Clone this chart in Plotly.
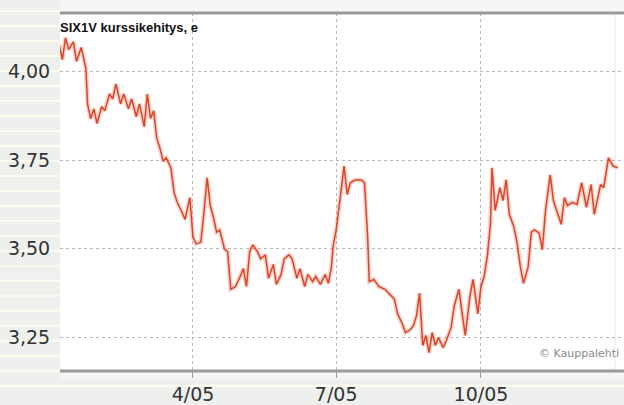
import plotly.graph_objects as go

# ---- data ----
dates = ["2005-01-06","2005-01-08","2005-01-10","2005-01-12","2005-01-15","2005-01-17","2005-01-20","2005-01-23","2005-01-24","2005-01-26",
         "2005-01-28","2005-01-30","2005-02-02","2005-02-04","2005-02-07","2005-02-09","2005-02-11","2005-02-14","2005-02-16","2005-02-19",
         "2005-02-21","2005-02-24","2005-02-26","2005-03-01","2005-03-03","2005-03-05","2005-03-07","2005-03-09","2005-03-11","2005-03-13",
         "2005-03-15","2005-03-18","2005-03-20","2005-03-22","2005-03-25","2005-03-27","2005-03-30","2005-04-01","2005-04-03","2005-04-06",
         "2005-04-08","2005-04-10","2005-04-12","2005-04-14","2005-04-16","2005-04-18","2005-04-21","2005-04-23","2005-04-25","2005-04-28",
         "2005-05-01","2005-05-03","2005-05-05","2005-05-07","2005-05-09","2005-05-12","2005-05-14","2005-05-17","2005-05-19","2005-05-22",
         "2005-05-24","2005-05-27","2005-05-29","2005-06-01","2005-06-03","2005-06-06","2005-06-08","2005-06-11","2005-06-13","2005-06-16",
         "2005-06-18","2005-06-21","2005-06-24","2005-06-26","2005-06-28","2005-06-29","2005-07-01","2005-07-04","2005-07-06","2005-07-08",
         "2005-07-10","2005-07-13","2005-07-17","2005-07-19","2005-07-21","2005-07-22","2005-07-25","2005-07-28","2005-08-01","2005-08-04",
         "2005-08-07","2005-08-09","2005-08-12","2005-08-14","2005-08-17","2005-08-19","2005-08-21","2005-08-23","2005-08-25","2005-08-27",
         "2005-08-29","2005-08-31","2005-09-02","2005-09-04","2005-09-07","2005-09-09","2005-09-12","2005-09-14","2005-09-17","2005-09-19",
         "2005-09-21","2005-09-24","2005-09-26","2005-09-29","2005-10-01","2005-10-03","2005-10-05","2005-10-07","2005-10-08","2005-10-10",
         "2005-10-13","2005-10-15","2005-10-17","2005-10-19","2005-10-22","2005-10-24","2005-10-26","2005-10-28","2005-10-31","2005-11-02",
         "2005-11-04","2005-11-07","2005-11-09","2005-11-11","2005-11-14","2005-11-16","2005-11-18","2005-11-21","2005-11-23","2005-11-25",
         "2005-11-28","2005-12-01","2005-12-04","2005-12-07","2005-12-10","2005-12-12","2005-12-16","2005-12-18","2005-12-21","2005-12-24",
         "2005-12-27"]

prices = [4.075,4.033,4.094,4.061,4.083,4.028,4.067,4.006,3.908,3.867,
          3.894,3.853,3.900,3.889,3.936,3.922,3.964,3.908,3.936,3.894,
          3.922,3.872,3.908,3.844,3.936,3.867,3.889,3.811,3.783,3.747,
          3.756,3.728,3.658,3.631,3.603,3.583,3.644,3.533,3.514,3.519,
          3.603,3.700,3.622,3.589,3.547,3.553,3.500,3.492,3.386,3.394,
          3.422,3.444,3.394,3.492,3.511,3.492,3.472,3.483,3.417,3.456,
          3.400,3.428,3.472,3.483,3.472,3.417,3.444,3.394,3.428,3.408,
          3.422,3.400,3.428,3.403,3.450,3.506,3.553,3.672,3.733,3.653,
          3.686,3.694,3.694,3.686,3.533,3.408,3.414,3.394,3.386,3.372,
          3.358,3.317,3.289,3.264,3.272,3.283,3.311,3.375,3.228,3.256,
          3.208,3.264,3.228,3.250,3.222,3.242,3.278,3.339,3.386,3.319,
          3.256,3.367,3.414,3.317,3.394,3.422,3.478,3.569,3.728,3.608,
          3.672,3.636,3.694,3.597,3.561,3.514,3.450,3.403,3.450,3.547,
          3.553,3.544,3.497,3.608,3.708,3.636,3.608,3.569,3.644,3.622,
          3.631,3.625,3.686,3.617,3.681,3.597,3.681,3.672,3.756,3.733,
          3.728]

y_tick_vals = [3.25, 3.50, 3.75, 4.00]
y_tick_text = ["3,25", "3,50", "3,75", "4,00"]
x_tick_vals = ["2005-04-01", "2005-07-01", "2005-10-01"]
x_tick_text = ["4/05", "7/05", "10/05"]
title_text = "SIX1V kurssikehitys, e"
source_text = "© Kauppalehti"

# ---- layout geometry ----
W, H = 624, 405
ML, MR, MT, MB = 60, 0, 13, 29
PW, PH = W - ML - MR, H - MT - MB

def px_x(px):
    return (px - ML) / PW

def px_y(py):
    return (H - MB - py) / PH

shapes = []
# cream stripes on grey paper
k = 0
while True:
    y0 = 10 + 15.2 * k
    if y0 > H:
        break
    shapes.append(dict(type="rect", xref="paper", yref="paper",
                       x0=px_x(0), x1=px_x(W), y0=px_y(y0 + 2), y1=px_y(y0),
                       fillcolor="#fdfbee", line_width=0, layer="below"))
    k += 1
# plot area white
shapes.append(dict(type="rect", xref="paper", yref="paper", x0=0, x1=1, y0=0, y1=1,
                   fillcolor="white", line_width=0, layer="below"))
# top strip
shapes.append(dict(type="rect", xref="paper", yref="paper", x0=0, x1=1, y0=1, y1=px_y(0),
                   fillcolor="#f6f6f6", line_width=0, layer="below"))
# light band under axis
shapes.append(dict(type="rect", xref="paper", yref="paper", x0=0, x1=1, y0=px_y(384), y1=px_y(377),
                   fillcolor="#f5f5f5", line_width=0, layer="below"))
# faint right line
shapes.append(dict(type="line", xref="paper", yref="paper", x0=px_x(615), x1=px_x(615), y0=0, y1=1,
                   line=dict(color="#e8e8e8", width=1), layer="below"))
# top and bottom border lines
for yy in (0, 1):
    shapes.append(dict(type="line", xref="paper", yref="paper", x0=0, x1=1, y0=yy, y1=yy,
                       line=dict(color="#9a9a9a", width=3), layer="above"))

fig = go.Figure()
fig.add_trace(go.Scatter(x=dates, y=prices, mode="lines",
                         line=dict(color="rgba(240,130,100,0.35)", width=4.5),
                         hoverinfo="skip", showlegend=False))
fig.add_trace(go.Scatter(x=dates, y=prices, mode="lines",
                         line=dict(color="#d8452b", width=1.5),
                         showlegend=False))

fig.update_layout(
    width=W, height=H,
    margin=dict(l=ML, r=MR, t=MT, b=MB, pad=0),
    paper_bgcolor="#eef0ee",
    plot_bgcolor="white",
    shapes=shapes,
    font=dict(family="DejaVu Sans", color="#333333"),
    xaxis=dict(
        range=["2005-01-06 12:00", "2005-12-30 21:00"],
        tickvals=x_tick_vals, ticktext=x_tick_text,
        tickfont=dict(size=19, color="#333333", family="DejaVu Sans"),
        ticks="outside", ticklen=6, tickcolor="#9a9a9a",
        showgrid=True, gridcolor="#b8b8b8", gridwidth=1, griddash="dot",
        showline=False, zeroline=False, fixedrange=True,
    ),
    yaxis=dict(
        range=[3.156, 4.164],
        tickvals=y_tick_vals, ticktext=y_tick_text,
        tickfont=dict(size=19, color="#333333", family="DejaVu Sans"),
        ticks="outside", ticklen=5, tickcolor="rgba(0,0,0,0)",
        showgrid=True, gridcolor="#b8b8b8", gridwidth=1, griddash="dot",
        showline=False, zeroline=False, fixedrange=True,
    ),
    annotations=[
        dict(text="<b>" + title_text + "</b>", xref="paper", yref="paper", x=px_x(58), y=px_y(28),
             xanchor="left", yanchor="middle", showarrow=False,
             font=dict(family="Liberation Sans Narrow, Liberation Sans", size=13, color="#111111")),
        dict(text=source_text, xref="paper", yref="paper", x=px_x(621), y=px_y(358),
             xanchor="right", yanchor="middle", showarrow=False,
             font=dict(family="DejaVu Sans", size=11, color="#8a8a8a")),
    ],
)

fig.write_html("out.html",
               config={"displayModeBar": False},
               post_script="document.body.style.margin='0px';document.body.style.padding='0px';")
